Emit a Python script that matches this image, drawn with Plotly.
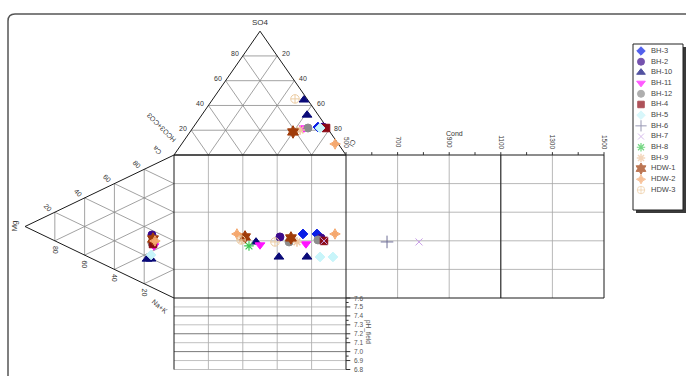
import plotly.graph_objects as go

# ---------------- sample data ----------------
samples = ["BH-3", "BH-2", "BH-10", "BH-11", "BH-12", "BH-4", "BH-5",
           "BH-6", "BH-7", "BH-8", "BH-9", "HDW-1", "HDW-2", "HDW-3"]

# anion triangle (% meq): SO4 and Cl, HCO3+CO3 is the remainder
anion_sample = ["HDW-3", "BH-10", "BH-10", "HDW-1", "BH-9", "BH-11", "BH-12",
                "BH-3", "BH-5", "BH-2", "BH-4", "HDW-2"]
anion_so4 = [45.3, 44.5, 32.3, 18.6, 20.2, 21.8, 21.8, 22.6, 21.8, 22.6, 21.8, 8.9]
anion_cl = [47.7, 53.3, 61.2, 59.9, 63.2, 64.7, 67.0, 72.4, 74.0, 75.3, 77.5, 89.2]

# cation triangle (% meq): Mg and Ca, Na+K is the remainder
cation_sample = ["BH-2", "HDW-1", "HDW-2", "BH-12", "BH-4", "BH-11", "BH-5", "BH-10", "BH-10"]
cation_mg = [14.8, 14.1, 12.8, 14.8, 14.1, 13.4, 15.4, 18.1, 15.4]
cation_ca = [36.7, 34.2, 33.5, 31.1, 30.7, 29.7, 22.4, 18.2, 19.6]

# central square (anion index, cation index)
square_sample = ["HDW-2", "HDW-3", "BH-9", "HDW-1", "BH-8", "BH-10", "BH-11", "HDW-3",
                 "BH-2", "BH-10", "BH-12", "HDW-1", "BH-9", "BH-3", "BH-11", "BH-3",
                 "BH-12", "BH-2", "BH-4", "BH-7", "HDW-2", "BH-10", "BH-5", "BH-5"]
square_x = [36.6, 39.0, 39.5, 41.3, 43.6, 47.7, 50.0, 58.7,
            61.6, 61.0, 66.9, 68.0, 71.5, 75.0, 76.7, 83.1,
            83.7, 85.5, 87.2, 87.2, 93.6, 77.3, 84.9, 92.4]
square_y = [44.8, 40.6, 41.0, 42.7, 36.4, 39.2, 37.1, 39.2,
            42.7, 28.7, 39.2, 42.0, 39.2, 44.8, 37.8, 44.8,
            40.6, 42.0, 39.9, 39.9, 44.8, 28.7, 28.7, 28.7]

# conductivity extension (uS/cm against cation index)
cond_sample = ["BH-6", "BH-7"]
cond_value = [659, 783]
cond_y = [39.2, 39.2]

cond_ticks = [500, 700, 900, 1100, 1300, 1500]
ph_ticks = [7.6, 7.5, 7.4, 7.3, 7.2, 7.1, 7.0, 6.9, 6.8]
tri_ticks = [20, 40, 60, 80]

style = {
    "BH-3": dict(symbol="diamond", color="#0a1ee6", size=7.5, lw=1),
    "BH-2": dict(symbol="circle", color="#3c0a8c", size=8, lw=1),
    "BH-10": dict(symbol="triangle-up", color="#0a0a78", size=8.5, lw=1),
    "BH-11": dict(symbol="triangle-down", color="#ff14ff", size=8.5, lw=1),
    "BH-12": dict(symbol="circle", color="#8c8c8c", size=8, lw=1),
    "BH-4": dict(symbol="square", color="#8c0a14", size=7.5, lw=1),
    "BH-5": dict(symbol="diamond", color="#c8f5fa", size=7.5, lw=1),
    "BH-6": dict(symbol="cross-thin", color="#6e6e96", size=9, lw=1),
    "BH-7": dict(symbol="x-thin", color="#c8a0e6", size=7, lw=1),
    "BH-8": dict(symbol="asterisk", color="#3cc850", size=8, lw=1.2),
    "BH-9": dict(symbol="asterisk", color="#efc6a0", size=8, lw=1.5),
    "HDW-1": dict(symbol="hexagram", color="#a03c0a", size=9.5, lw=1),
    "HDW-2": dict(symbol="star-diamond", color="#f5a86e", size=7.5, lw=1),
    "HDW-3": dict(symbol="circle-cross-open", color="#eccca2", size=8.5, lw=1),
}

# ---------------- geometry ----------------
W, H = 686, 376
SX, SY = 1.72, 1.43          # pixels per diagram unit
OX, OY = 174, 298            # pixel position of the square's lower-left corner
R3 = 0.8660254


def anion_xy(so4, cl):
    return cl + so4 / 2.0, 100 + so4 * R3


def cation_xy(mg, ca):
    return -mg * R3, ca + mg / 2.0


def cond_x(c):
    return 100 + (c - 500) * 0.15


def ph_y(p):
    return (p - 7.6) * 62.5


fig = go.Figure()


def add_lines(segs, color, width):
    xs, ys = [], []
    for (x0, y0), (x1, y1) in segs:
        xs += [x0, x1, None]
        ys += [y0, y1, None]
    fig.add_trace(go.Scatter(x=xs, y=ys, mode="lines", hoverinfo="skip",
                             line=dict(color=color, width=width), showlegend=False))


# anion triangle grid
grid = []
for v in tri_ticks:
    grid.append((anion_xy(v, 0), anion_xy(v, 100 - v)))          # constant SO4
    grid.append((anion_xy(0, v), anion_xy(100 - v, v)))          # constant Cl
    grid.append((anion_xy(0, 100 - v), anion_xy(100 - v, 0)))    # constant HCO3
# cation triangle grid
for v in tri_ticks:
    grid.append((cation_xy(v, 0), cation_xy(v, 100 - v)))        # constant Mg
    grid.append((cation_xy(0, v), cation_xy(100 - v, v)))        # constant Ca
    grid.append((cation_xy(0, 100 - v), cation_xy(100 - v, 0)))  # constant Na+K
add_lines(grid, "#8a8a8a", 0.8)

# square, conductivity and pH grids
sq = []
for v in tri_ticks:
    sq.append(((v, 0), (v, 100)))
    sq.append(((0, v), (cond_x(1500), v)))
    sq.append(((v, 0), (v, ph_y(6.8))))
for c in cond_ticks[1:-1]:
    sq.append(((cond_x(c), 0), (cond_x(c), 100)))
add_lines(sq, "#a6a6a6", 0.8)

ph_light = [((0, ph_y(p)), (100, ph_y(p))) for p in ph_ticks[1::2]] + \
           [((0, ph_y(6.8)), (100, ph_y(6.8)))]
add_lines(ph_light, "#b0b0b0", 0.8)
ph_dark = [((0, ph_y(p)), (100, ph_y(p))) for p in [7.4, 7.2, 7.0]]
add_lines(ph_dark, "#555555", 0.8)

# outlines
edges = [
    (anion_xy(0, 0), anion_xy(100, 0)), (anion_xy(100, 0), anion_xy(0, 100)),
    (anion_xy(0, 0), anion_xy(0, 100)),
    (cation_xy(0, 100), cation_xy(100, 0)), (cation_xy(100, 0), cation_xy(0, 0)),
    ((0, 0), (0, 100)), ((100, 0), (100, 100)),
    ((0, 100), (cond_x(1500), 100)), ((0, 0), (cond_x(1500), 0)),
    ((cond_x(1500), 0), (cond_x(1500), 100)), ((cond_x(1100), 0), (cond_x(1100), 100)),
    ((0, 0), (0, ph_y(6.8))), ((100, 0), (100, ph_y(6.8))),
]
add_lines(edges, "#1a1a1a", 1)

# axis ticks for conductivity and pH
ticks = []
for c in range(500, 1501, 100):
    ticks.append(((cond_x(c), 100), (cond_x(c), 100 + 2.0)))
for p in ph_ticks:
    ticks.append(((100, ph_y(p)), (102.5, ph_y(p))))
for p in [7.55, 7.35, 7.15, 6.95]:
    ticks.append(((100, ph_y(p)), (101.5, ph_y(p))))
add_lines(ticks, "#333333", 1)

# ---------------- samples ----------------
for s in samples:
    xs, ys = [], []
    for n, so4, cl in zip(anion_sample, anion_so4, anion_cl):
        if n == s:
            x, y = anion_xy(so4, cl)
            xs.append(x); ys.append(y)
    for n, mg, ca in zip(cation_sample, cation_mg, cation_ca):
        if n == s:
            x, y = cation_xy(mg, ca)
            xs.append(x); ys.append(y)
    for n, x, y in zip(square_sample, square_x, square_y):
        if n == s:
            xs.append(x); ys.append(y)
    for n, c, y in zip(cond_sample, cond_value, cond_y):
        if n == s:
            xs.append(cond_x(c)); ys.append(y)
    st = style[s]
    fig.add_trace(go.Scatter(
        x=xs, y=ys, mode="markers", name=s, showlegend=False,
        marker=dict(symbol=st["symbol"], size=st["size"], color=st["color"],
                    line=dict(color=st["color"], width=st["lw"]))))

# ---------------- legend panel ----------------
fig.add_trace(go.Scatter(
    x=[0.16] * len(samples), y=list(range(len(samples))), mode="markers",
    xaxis="x2", yaxis="y2", showlegend=False, hoverinfo="skip",
    marker=dict(symbol=[style[s]["symbol"] for s in samples],
                size=[style[s]["size"] - 1 for s in samples],
                color=[style[s]["color"] for s in samples],
                line=dict(color=[style[s]["color"] for s in samples],
                          width=[style[s]["lw"] for s in samples]))))
fig.add_trace(go.Scatter(
    x=[0.36] * len(samples), y=list(range(len(samples))), mode="text",
    text=samples, textposition="middle right", xaxis="x2", yaxis="y2",
    showlegend=False, hoverinfo="skip",
    textfont=dict(family="Liberation Sans, Arial", size=7.5, color="#444444")))

# ---------------- text ----------------
FONT = "Liberation Sans, Arial"
ann = []


def label(x, y, text, size=7, angle=0, dx=0, dy=0, color="#333333", anchor="center"):
    ann.append(dict(x=x, y=y, text=text, showarrow=False, textangle=angle,
                    xshift=dx, yshift=dy, xanchor=anchor, yanchor="middle",
                    font=dict(family=FONT, size=size, color=color)))


for v in tri_ticks:
    x, y = anion_xy(v, 0)
    label(x, y, str(v), dx=-8, dy=2)
    x, y = anion_xy(v, 100 - v)
    label(x, y, str(100 - v), dx=9, dy=2)
    x, y = cation_xy(100 - v, v)
    label(x, y, str(v), angle=45, dx=-7, dy=5)
    x, y = cation_xy(v, 0)
    label(x, y, str(v), angle=90, dx=0, dy=-9)

ax, ay = anion_xy(100, 0)
label(ax, ay, "SO4", size=8, dy=9)
label(0, 100, "HCO3+CO3", angle=-135, dx=-13, dy=27)
label(0, 100, "Ca", angle=-135, dx=-17, dy=4)
label(100, 100, "Cl", angle=120, dx=7, dy=12)
mx, my = cation_xy(100, 0)
label(mx, my, "Mg", size=8, angle=-90, dx=-11)
label(0, 0, "Na+K", angle=40, dx=-14, dy=-8)

for c in cond_ticks:
    label(cond_x(c), 100, str(c), size=6.5, angle=90, dx=1, dy=13)
label(cond_x(920), 100, "Cond", size=7, dy=22)

for p in ph_ticks:
    label(100, ph_y(p), f"{p:.1f}", size=6.5, dx=6, color="#555555", anchor="left")
label(100, ph_y(7.22), "pH_field", size=6.5, angle=90, dx=22, color="#555555")

# ---------------- frame and legend box ----------------
def px(xp):
    return xp / W


def py(yp):
    return 1 - yp / H


r = 7
frame = (f"M {px(8)},{py(390)} L {px(8)},{py(14 + r)} "
         f"Q {px(8)},{py(14)} {px(8 + r)},{py(14)} "
         f"L {px(700)},{py(14)}")
shapes = [
    dict(type="path", path=frame, xref="paper", yref="paper",
         line=dict(color="#555555", width=1.5)),
    dict(type="rect", xref="paper", yref="paper", x0=px(636), x1=px(686),
         y0=py(213), y1=py(47), fillcolor="#3a3a3a", line=dict(width=0), layer="below"),
    dict(type="rect", xref="paper", yref="paper", x0=px(633), x1=px(683),
         y0=py(210), y1=py(44), fillcolor="white", line=dict(color="#222222", width=1),
         layer="below"),
]

fig.update_layout(
    width=W, height=H, margin=dict(l=0, r=0, t=0, b=0),
    paper_bgcolor="white", plot_bgcolor="rgba(0,0,0,0)",
    xaxis=dict(range=[-OX / SX, (W - OX) / SX], visible=False, domain=[0, 1]),
    yaxis=dict(range=[-(H - OY) / SY, OY / SY], visible=False, domain=[0, 1]),
    xaxis2=dict(range=[0, 1], visible=False, domain=[px(633), px(683)], anchor="y2"),
    yaxis2=dict(range=[14.87, -0.655], visible=False, domain=[py(210), py(44)], anchor="x2"),
    shapes=shapes, annotations=ann, showlegend=False,
)

fig.write_html("out.html")
